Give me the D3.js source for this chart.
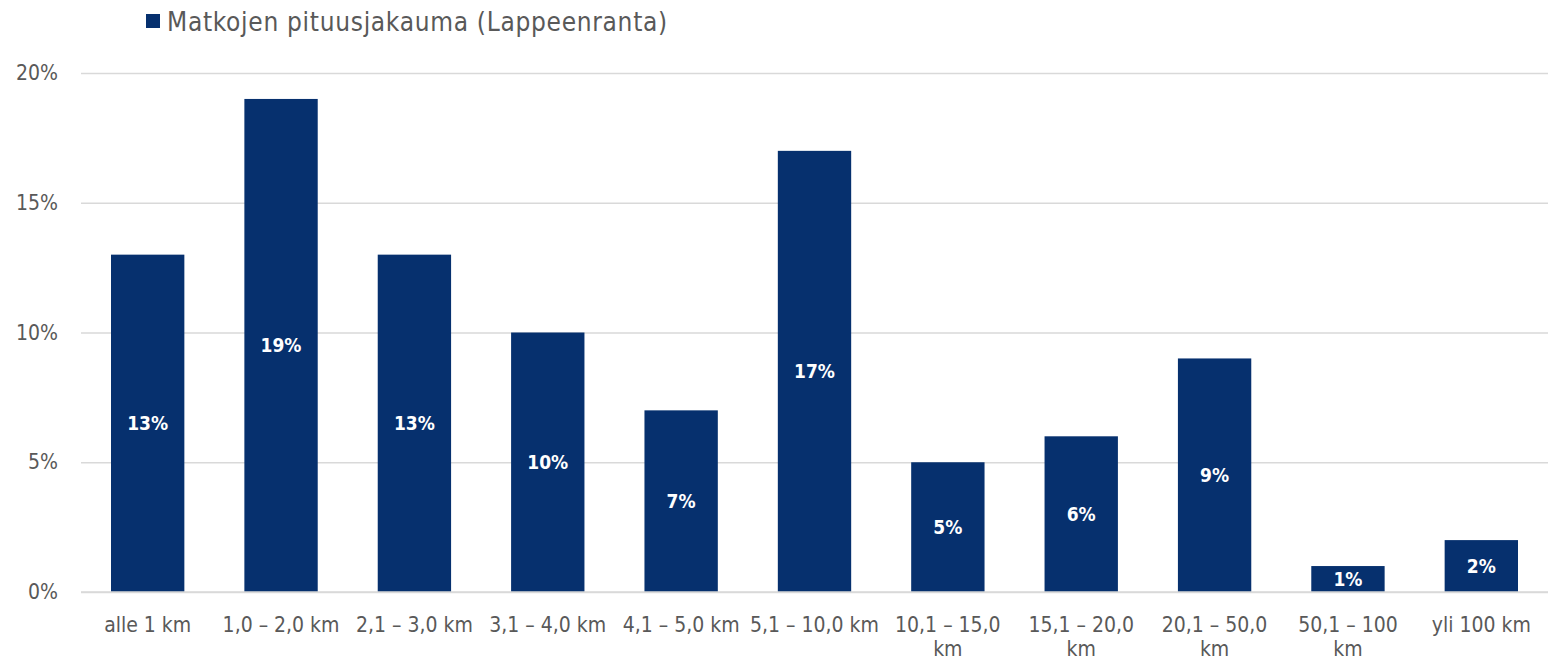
<!DOCTYPE html>
<html>
<head>
<meta charset="utf-8">
<script src="https://cdn.jsdelivr.net/npm/d3@7"></script>
<style>
  body { margin: 0; background: #fff; }
  svg text { font-family: "DejaVu Sans Condensed", "DejaVu Sans", sans-serif; }
</style>
</head>
<body>
<div id="chart"></div>
<script>
const categories = ["alle 1 km", "1,0 – 2,0 km", "2,1 – 3,0 km", "3,1 – 4,0 km", "4,1 – 5,0 km", "5,1 – 10,0 km", "10,1 – 15,0 km", "15,1 – 20,0 km", "20,1 – 50,0 km", "50,1 – 100 km", "yli 100 km"];
const values = [13, 19, 13, 10, 7, 17, 5, 6, 9, 1, 2];
const yTicks = [0, 5, 10, 15, 20];
const seriesName = "Matkojen pituusjakauma (Lappeenranta)";
// labels that Excel broke onto two lines
const wrapped = ["10,1 – 15,0 km", "15,1 – 20,0 km", "20,1 – 50,0 km", "50,1 – 100 km"];

const W = 1560, H = 663;
const margin = { top: 73, right: 12, bottom: 71, left: 81 };
const width = W - margin.left - margin.right;
const height = H - margin.top - margin.bottom;
const barColor = "#06306e";
const textColor = "#595959";

const svg = d3.select("#chart").append("svg")
    .attr("width", W)
    .attr("height", H);

const g = svg.append("g")
    .attr("transform", `translate(${margin.left},${margin.top})`);

const x = d3.scaleBand()
    .domain(categories)
    .range([0, width])
    .paddingInner(0.45)
    .paddingOuter(0.225);

const y = d3.scaleLinear()
    .domain([0, 20])
    .range([height, 0]);

// gridlines + y axis
const yAxis = g.append("g")
    .call(d3.axisLeft(y).tickValues(yTicks).tickSize(-width).tickFormat(d => d + "%"));
yAxis.select(".domain").remove();
yAxis.selectAll(".tick line").attr("stroke", "#d9d9d9").attr("stroke-width", 1.3);
yAxis.selectAll(".tick text")
    .attr("x", -23)
    .attr("fill", textColor)
    .style("font-size", "21px");

// bars
g.selectAll(".bar")
    .data(values)
    .enter()
    .append("rect")
    .attr("class", "bar")
    .attr("x", (d, i) => x(categories[i]))
    .attr("y", d => y(d))
    .attr("width", x.bandwidth())
    .attr("height", d => height - y(d))
    .attr("fill", barColor);

// value labels
g.selectAll(".val")
    .data(values)
    .enter()
    .append("text")
    .attr("class", "val")
    .attr("x", (d, i) => x(categories[i]) + x.bandwidth() / 2)
    .attr("y", d => (y(d) + height) / 2)
    .attr("dy", "0.35em")
    .attr("text-anchor", "middle")
    .attr("fill", "#fff")
    .style("font-size", "19px")
    .style("font-weight", "bold")
    .text(d => d + "%");

// x axis baseline
g.append("line")
    .attr("x1", 0).attr("x2", width)
    .attr("y1", height).attr("y2", height)
    .attr("stroke", "#d9d9d9")
    .attr("stroke-width", 1.5);

// x labels
const xLabels = g.selectAll(".xl")
    .data(categories)
    .enter()
    .append("text")
    .attr("class", "xl")
    .attr("x", d => x(d) + x.bandwidth() / 2)
    .attr("y", height + 40)
    .attr("text-anchor", "middle")
    .attr("fill", textColor)
    .style("font-size", "21px");

xLabels.each(function(d) {
    const t = d3.select(this);
    const cx = x(d) + x.bandwidth() / 2;
    if (wrapped.includes(d)) {
        const words = d.split(" ");
        const last = words.pop();
        t.append("tspan").attr("x", cx).text(words.join(" "));
        t.append("tspan").attr("x", cx).attr("dy", 24).text(last);
    } else {
        t.text(d);
    }
});

// legend
const legend = svg.append("g").attr("transform", "translate(146,14)");
legend.append("rect")
    .attr("width", 14).attr("height", 14)
    .attr("fill", barColor);
legend.append("text")
    .attr("x", 21)
    .attr("y", 8)
    .attr("dy", "0.36em")
    .attr("fill", textColor)
    .style("font-size", "26px")
    .style("letter-spacing", "0.7px")
    .text(seriesName);
</script>
</body>
</html>
